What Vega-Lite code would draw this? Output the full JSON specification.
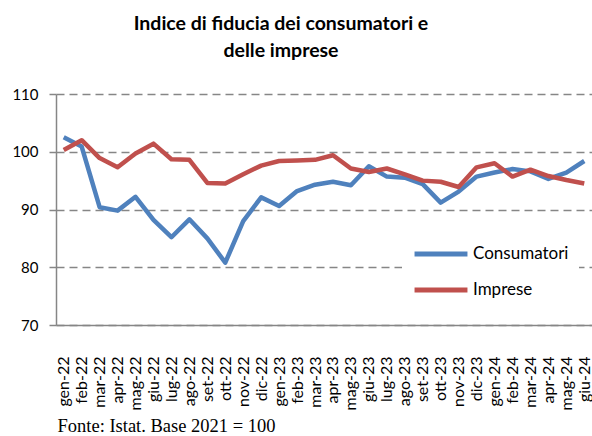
{
  "$schema": "https://vega.github.io/schema/vega-lite/v6.json",
  "width": 536,
  "height": 231,
  "autosize": {"type": "none"},
  "padding": {"left": 56, "top": 94, "right": 0, "bottom": 111},
  "background": "white",
  "title": {
    "text": ["Indice di fiducia dei consumatori e", "delle imprese"],
    "font": "Lato",
    "fontSize": 19.5,
    "fontWeight": "bold",
    "color": "#000000",
    "anchor": "middle",
    "frame": "group",
    "dx": -43,
    "offset": 26,
    "lineHeight": 27
  },
  "data": {
    "values": [
      {"mese": "gen-22", "Consumatori": 102.5, "Imprese": 100.3},
      {"mese": "feb-22", "Consumatori": 100.9, "Imprese": 102.0},
      {"mese": "mar-22", "Consumatori": 90.4, "Imprese": 98.9},
      {"mese": "apr-22", "Consumatori": 89.8, "Imprese": 97.3},
      {"mese": "mag-22", "Consumatori": 92.2, "Imprese": 99.7},
      {"mese": "giu-22", "Consumatori": 88.2, "Imprese": 101.4},
      {"mese": "lug-22", "Consumatori": 85.2, "Imprese": 98.7},
      {"mese": "ago-22", "Consumatori": 88.3, "Imprese": 98.6},
      {"mese": "set-22", "Consumatori": 85.0, "Imprese": 94.6},
      {"mese": "ott-22", "Consumatori": 80.8, "Imprese": 94.5},
      {"mese": "nov-22", "Consumatori": 88.0, "Imprese": 96.1},
      {"mese": "dic-22", "Consumatori": 92.1, "Imprese": 97.6},
      {"mese": "gen-23", "Consumatori": 90.6, "Imprese": 98.4},
      {"mese": "feb-23", "Consumatori": 93.2, "Imprese": 98.5},
      {"mese": "mar-23", "Consumatori": 94.3, "Imprese": 98.6},
      {"mese": "apr-23", "Consumatori": 94.8, "Imprese": 99.4},
      {"mese": "mag-23", "Consumatori": 94.2, "Imprese": 97.1},
      {"mese": "giu-23", "Consumatori": 97.5, "Imprese": 96.5},
      {"mese": "lug-23", "Consumatori": 95.7, "Imprese": 97.1},
      {"mese": "ago-23", "Consumatori": 95.5, "Imprese": 96.1},
      {"mese": "set-23", "Consumatori": 94.4, "Imprese": 95.0},
      {"mese": "ott-23", "Consumatori": 91.2, "Imprese": 94.8},
      {"mese": "nov-23", "Consumatori": 93.1, "Imprese": 93.9},
      {"mese": "dic-23", "Consumatori": 95.7, "Imprese": 97.3},
      {"mese": "gen-24", "Consumatori": 96.4, "Imprese": 98.0},
      {"mese": "feb-24", "Consumatori": 97.0, "Imprese": 95.7},
      {"mese": "mar-24", "Consumatori": 96.6, "Imprese": 96.9},
      {"mese": "apr-24", "Consumatori": 95.3, "Imprese": 95.8},
      {"mese": "mag-24", "Consumatori": 96.4, "Imprese": 95.1},
      {"mese": "giu-24", "Consumatori": 98.4, "Imprese": 94.5}
    ]
  },
  "transform": [{"fold": ["Consumatori", "Imprese"], "as": ["serie", "valore"]}],
  "mark": {"type": "line", "strokeWidth": 4.5, "strokeJoin": "round"},
  "encoding": {
    "x": {
      "field": "mese",
      "type": "ordinal",
      "sort": ["gen-22","feb-22","mar-22","apr-22","mag-22","giu-22","lug-22","ago-22","set-22","ott-22","nov-22","dic-22","gen-23","feb-23","mar-23","apr-23","mag-23","giu-23","lug-23","ago-23","set-23","ott-23","nov-23","dic-23","gen-24","feb-24","mar-24","apr-24","mag-24","giu-24"],
      "scale": {"type": "point", "padding": 0.43},
      "axis": {
        "title": "Fonte: Istat. Base 2021 = 100",
        "titleFont": "Liberation Serif",
        "titleFontSize": 18.5,
        "titleFontWeight": "normal",
        "titleColor": "#000000",
        "titleAnchor": "start",
        "titleAlign": "left",
        "titleBaseline": "alphabetic",
        "titleX": 1,
        "titleY": 106,
        "labelAngle": -90,
        "labelAlign": "right",
        "labelBaseline": "middle",
        "labelFont": "Lato",
        "labelFontSize": 16,
        "labelColor": "#000000",
        "labelPadding": 31,
        "labelOverlap": false,
        "ticks": false,
        "grid": false,
        "domainColor": "#868686",
        "domainWidth": 1.5
      }
    },
    "y": {
      "field": "valore",
      "type": "quantitative",
      "scale": {"domain": [70, 110]},
      "axis": {
        "values": [70, 80, 90, 100, 110],
        "title": null,
        "labelFont": "Lato",
        "labelFontSize": 15,
        "labelColor": "#000000",
        "labelPadding": 11,
        "tickSize": 7,
        "tickColor": "#868686",
        "tickWidth": 1.5,
        "domainColor": "#868686",
        "domainWidth": 1.5,
        "gridColor": "#868686",
        "gridDash": [8, 5],
        "gridWidth": 1.5
      }
    },
    "color": {
      "field": "serie",
      "type": "nominal",
      "scale": {"domain": ["Consumatori", "Imprese"], "range": ["#4F81BD", "#C0504D"]},
      "legend": {
        "title": null,
        "orient": "none",
        "legendX": 346,
        "legendY": 140,
        "fillColor": "white",
        "padding": 10,
        "symbolType": "stroke",
        "symbolSize": 2800,
        "symbolStrokeWidth": 5,
        "clipHeight": 20,
        "rowPadding": 16,
        "labelFont": "Lato",
        "labelFontSize": 17,
        "labelColor": "#000000",
        "labelOffset": 3
      }
    }
  },
  "config": {"view": {"stroke": null}}
}
